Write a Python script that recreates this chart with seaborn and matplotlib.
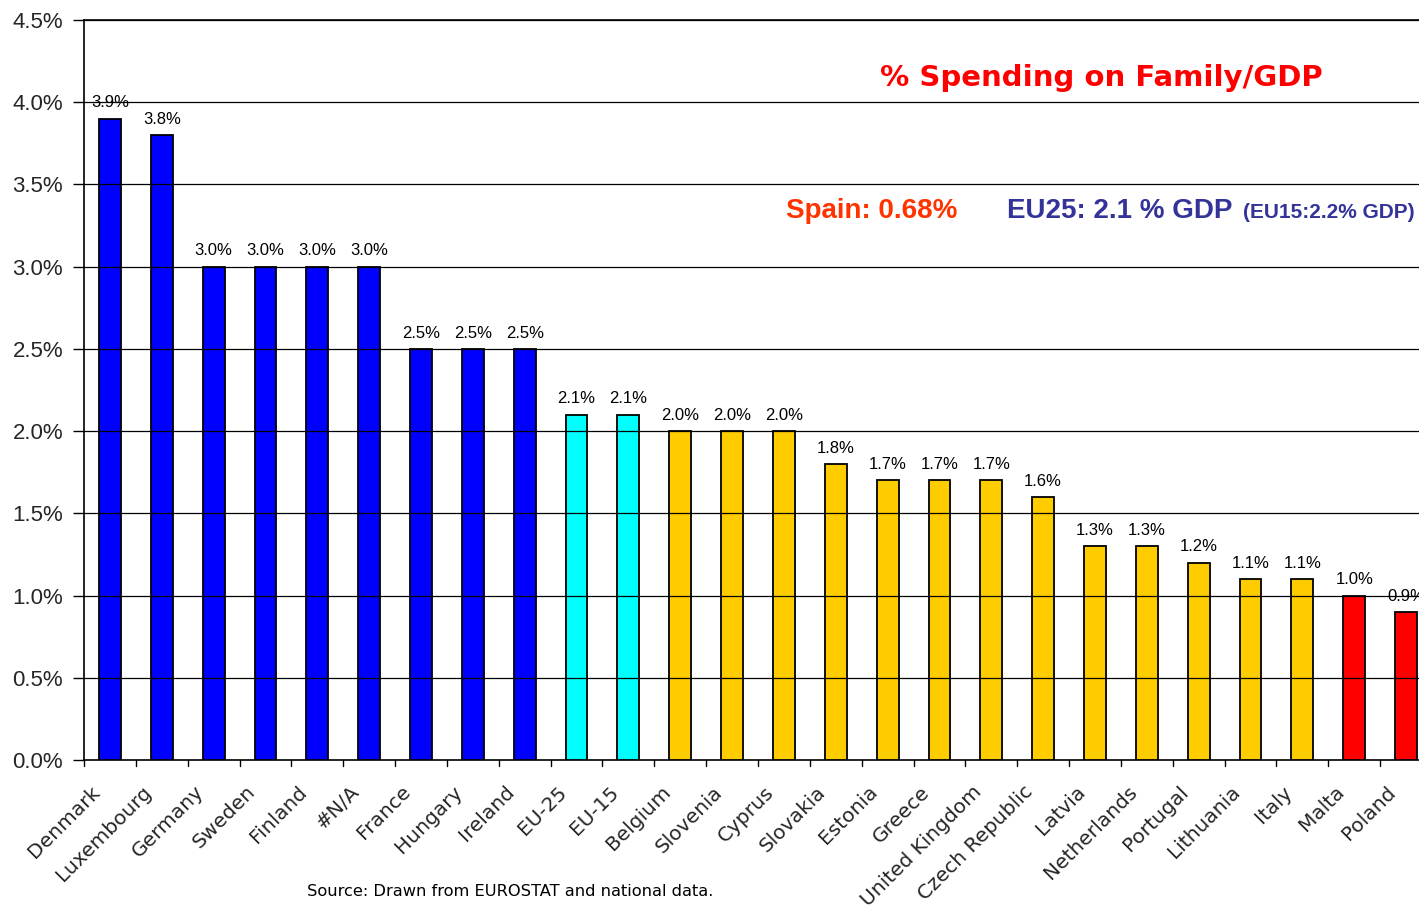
import matplotlib
matplotlib.use("Agg")
import matplotlib.pyplot as plt
from matplotlib.transforms import ScaledTranslation
import seaborn as sns
import pandas as pd

countries = ["Denmark", "Luxembourg", "Germany", "Sweden", "Finland", "#N/A",
             "France", "Hungary", "Ireland", "EU-25", "EU-15", "Belgium",
             "Slovenia", "Cyprus", "Slovakia", "Estonia", "Greece",
             "United Kingdom", "Czech Republic", "Latvia", "Netherlands",
             "Portugal", "Lithuania", "Italy", "Malta", "Poland"]
spending = [3.9, 3.8, 3.0, 3.0, 3.0, 3.0, 2.5, 2.5, 2.5, 2.1, 2.1, 2.0,
            2.0, 2.0, 1.8, 1.7, 1.7, 1.7, 1.6, 1.3, 1.3, 1.2, 1.1, 1.1,
            1.0, 0.9]
groups = ["high"] * 9 + ["eu"] * 2 + ["mid"] * 13 + ["low"] * 2
group_colors = {"high": "#0000FF", "eu": "#00FFFF", "mid": "#FFCC00", "low": "#FF0000"}
y_ticks = [0.0, 0.5, 1.0, 1.5, 2.0, 2.5, 3.0, 3.5, 4.0, 4.5]

df = pd.DataFrame({"country": countries, "value": spending, "group": groups})

sns.set_theme(style="white")
plt.rcParams["font.family"] = ["DejaVu Sans"]

fig = plt.figure(figsize=(14.19, 9.07), dpi=100)
ax = fig.add_axes([84 / 1419, 147 / 907, 1348 / 1419, 740 / 907])

sns.barplot(data=df, x="country", y="value", hue="group", palette=group_colors,
            dodge=False, legend=False, width=0.42, edgecolor="black",
            linewidth=1.3, saturation=1, ax=ax, zorder=3)

ax.set_xlim(-0.5, len(countries) - 0.5)
ax.set_ylim(0, 4.5)
ax.set_yticks(y_ticks)
ax.set_yticklabels([f"{t:.1f}%" for t in y_ticks], fontsize=16,
                   fontfamily="Liberation Sans")
for t in y_ticks[1:]:
    ax.axhline(t, color="black", linewidth=0.9, zorder=4)

# category names: rotated, anchored slightly left of and below each bar
ax.set_xticks(range(len(countries)))
ax.set_xticklabels([])
ax.tick_params(axis="x", length=0)
name_tf = ax.get_xaxis_transform() + ScaledTranslation(-0.13, -0.29, fig.dpi_scale_trans)
for i, name in enumerate(countries):
    ax.text(i, 0, name, rotation=45, ha="right", va="center",
            rotation_mode="anchor", fontsize=14.5, transform=name_tf,
            clip_on=False)

ax.tick_params(axis="y", length=8, width=1, color="black", direction="out",
               left=True, pad=7)
# tick marks between categories
for b in [i - 0.5 for i in range(len(countries) + 1)]:
    ax.plot([b, b], [0, -0.035], color="black", linewidth=1,
            clip_on=False, zorder=5)

ax.set_xlabel("")
ax.set_ylabel("")
for side in ["left", "bottom", "top"]:
    ax.spines[side].set_color("black")
    ax.spines[side].set_linewidth(1.2)
ax.spines["right"].set_visible(False)

for i, v in enumerate(spending):
    ax.text(i, v + 0.05, f"{v:.1f}%", ha="center", va="bottom", fontsize=12,
            fontfamily="Liberation Sans", color="black", zorder=3)

fig.text(1101 / 1419, 1 - 78 / 907, "% Spending on Family/GDP", color="#FF0000",
         fontsize=21, fontweight="bold", ha="center", va="center")
fig.text(786 / 1419, 1 - 211 / 907, "Spain: 0.68%", color="#FF3300",
         fontsize=20, fontweight="bold", ha="left", va="center",
         fontfamily="Liberation Sans")
fig.text(1007 / 1419, 1 - 211 / 907, "EU25: 2.1 % GDP", color="#333399",
         fontsize=20, fontweight="bold", ha="left", va="center",
         fontfamily="Liberation Sans")
fig.text(1243 / 1419, 1 - 213 / 907, "(EU15:2.2% GDP)", color="#333399",
         fontsize=15, fontweight="bold", ha="left", va="center",
         fontfamily="Liberation Sans")
fig.text(307 / 1419, 1 - 891 / 907, "Source: Drawn from EUROSTAT and national data.",
         color="black", fontsize=11.7, ha="left", va="center")

fig.savefig("out.png", dpi=100)
